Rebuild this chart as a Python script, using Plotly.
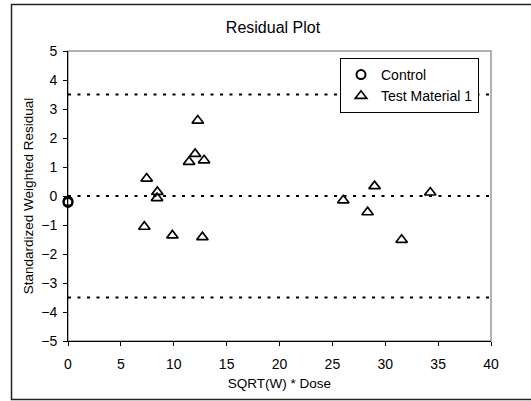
import plotly.graph_objects as go

# Data
control_x = [0, 0]
control_y = [-0.18, -0.22]

test_x = [7.44, 8.45, 8.42, 7.22, 9.87, 12.71, 11.45, 12.02, 12.87, 12.27,
          26.03, 28.33, 28.99, 31.55, 34.26]
test_y = [0.60, 0.14, -0.07, -1.06, -1.36, -1.42, 1.18, 1.45, 1.23, 2.60,
          -0.15, -0.56, 0.34, -1.51, 0.12]

ref_levels = [3.5, 0, -3.5]
x_range = [0, 40]
y_range = [-5, 5]
x_ticks = [0, 5, 10, 15, 20, 25, 30, 35, 40]
y_ticks = [5, 4, 3, 2, 1, 0, -1, -2, -3, -4, -5]

FONT = "Liberation Sans, Arial, sans-serif"

fig = go.Figure()

for lvl in ref_levels:
    fig.add_trace(go.Scatter(
        x=x_range, y=[lvl, lvl], mode="lines",
        line=dict(color="black", width=1.8, dash="3px,6.5px"),
        showlegend=False, hoverinfo="skip"))

fig.add_trace(go.Scatter(
    x=control_x, y=control_y, mode="markers", name="Control",
    marker=dict(symbol="circle-open", size=9, color="black",
                line=dict(color="black", width=2)),
    cliponaxis=False))

fig.add_trace(go.Scatter(
    x=test_x, y=test_y, mode="markers", name="Test Material 1",
    marker=dict(symbol="triangle-up-open", size=10, color="black",
                line=dict(color="black", width=1.7)),
    cliponaxis=False))

L, R, T, B = 68, 40, 51, 60
W, H = 531, 401
pw = W - L - R
ph = H - T - B

def px_to_paper_x(px):
    return (px - L) / pw

def py_to_paper_y(py):
    return (H - B - py) / ph

fig.update_layout(
    width=W, height=H,
    margin=dict(l=L, r=R, t=T, b=B),
    paper_bgcolor="white", plot_bgcolor="white",
    font=dict(family=FONT, size=13.5, color="black"),
    title=dict(text="Residual Plot", x=273 / W, xanchor="center",
               y=1 - 27 / H, yanchor="middle",
               font=dict(family=FONT, size=16, color="black")),
    showlegend=True,
    legend=dict(x=px_to_paper_x(479), xanchor="right",
                y=py_to_paper_y(58), yanchor="top",
                bgcolor="white", bordercolor="black", borderwidth=1,
                font=dict(family=FONT, size=14, color="black"),
                itemwidth=30, tracegroupgap=0),
    xaxis=dict(range=x_range, tickvals=x_ticks, ticks="outside", ticklen=4,
               tickcolor="black", showgrid=False, zeroline=False,
               showline=True, linecolor="black", linewidth=1,
               ticklabelstandoff=6,
               title=dict(text="SQRT(W) * Dose", standoff=7,
                          font=dict(family=FONT, size=13.5)),
               tickfont=dict(family=FONT, size=14)),
    yaxis=dict(range=y_range, tickvals=y_ticks, ticks="outside", ticklen=4,
               tickcolor="black", showgrid=False, zeroline=False,
               showline=True, linecolor="black", linewidth=1,
               ticklabelstandoff=3,
               title=dict(text="Standardized Weighted Residual", standoff=4,
                          font=dict(family=FONT, size=13.5)),
               tickfont=dict(family=FONT, size=14)),
    shapes=[
        dict(type="rect", xref="paper", yref="paper", x0=0, x1=1, y0=0, y1=1,
             line=dict(color="#999999", width=1.5), layer="below"),
        dict(type="rect", xref="paper", yref="paper",
             x0=px_to_paper_x(11.5), x1=px_to_paper_x(540),
             y0=py_to_paper_y(399.5), y1=py_to_paper_y(4.5),
             line=dict(color="#222222", width=1.5), layer="below"),
    ],
)

fig.write_html("out.html",
               config={"displayModeBar": False},
               post_script="document.body.style.margin='0';")
